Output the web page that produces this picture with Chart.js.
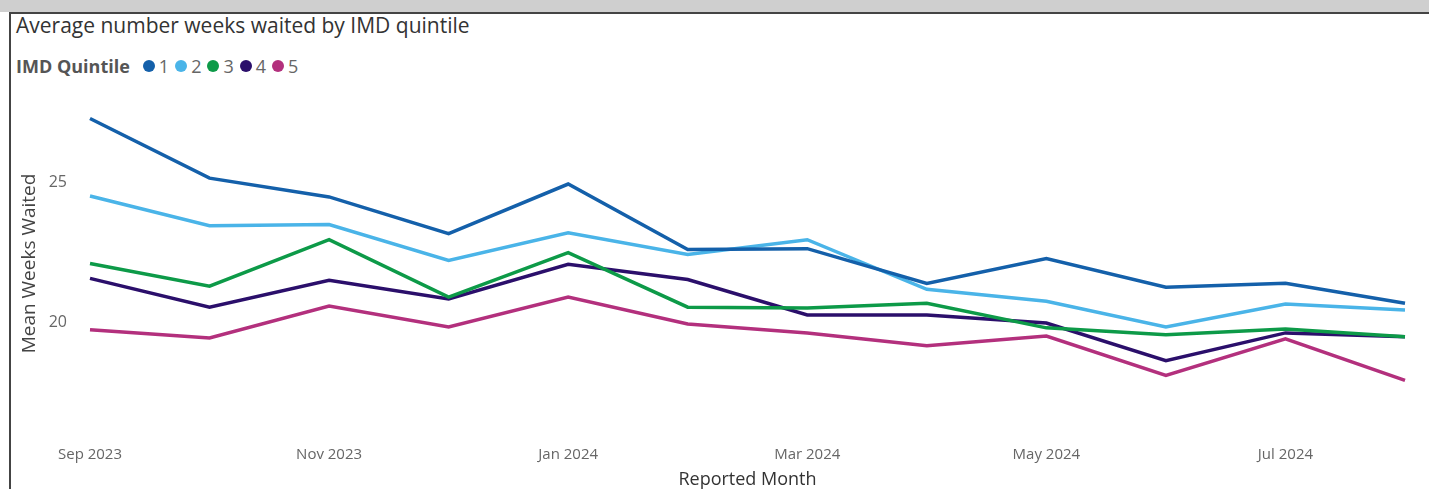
<!DOCTYPE html>
<html>
<head>
<meta charset="utf-8">
<script src="https://cdn.jsdelivr.net/npm/chart.js@4"></script>
<style>
  body { margin: 0; width: 1429px; height: 489px; overflow: hidden; background: #fff; font-family: "Open Sans", sans-serif; }
  .band { position: absolute; left: 0; top: 0; width: 1429px; height: 12px; background: #cfcfcf; }
  .frame { position: absolute; left: 9px; top: 12px; width: 1420px; height: 477px; border-top: 2px solid #444; border-left: 2px solid #444; box-sizing: border-box; }
  .title { position: absolute; left: 16px; top: 11px; font-size: 21px; color: #333; white-space: nowrap; }
  .legend { position: absolute; left: 16px; top: 54px; font-size: 18px; color: #555; display: flex; align-items: center; white-space: nowrap; }
  .legend b { font-weight: 700; margin-right: 13px; }
  .legend span.item { display: flex; align-items: center; margin-right: 6px; color: #666; }
  .legend i { display: inline-block; width: 12px; height: 12px; border-radius: 50%; margin-right: 4px; }
  .wrap { position: absolute; left: 10px; top: 90px; width: 1419px; height: 399px; }
</style>
</head>
<body>
<div class="band"></div>
<div class="frame"></div>
<div class="title">Average number weeks waited by IMD quintile</div>
<div class="legend" id="legend"><b>IMD Quintile</b></div>
<div class="wrap"><canvas id="chart" width="1419" height="399"></canvas></div>
<script>
// months on the x axis
const months = ["Sep 2023", "Oct 2023", "Nov 2023", "Dec 2023", "Jan 2024", "Feb 2024",
  "Mar 2024", "Apr 2024", "May 2024", "Jun 2024", "Jul 2024", "Aug 2024"];
const quintiles = ["1", "2", "3", "4", "5"];
const yTicks = [20, 25];

// mean weeks waited per quintile
const q1 = [27.27, 25.14, 24.47, 23.16, 24.93, 22.59, 22.62, 21.38, 22.27, 21.24, 21.38, 20.67];
const q2 = [24.50, 23.44, 23.48, 22.20, 23.19, 22.41, 22.94, 21.17, 20.74, 19.82, 20.64, 20.43];
const q3 = [22.09, 21.28, 22.94, 20.89, 22.48, 20.53, 20.50, 20.67, 19.79, 19.54, 19.75, 19.47];
const q4 = [21.56, 20.53, 21.49, 20.82, 22.06, 21.52, 20.25, 20.25, 19.96, 18.62, 19.61, 19.47];
const q5 = [19.72, 19.43, 20.57, 19.82, 20.89, 19.93, 19.61, 19.15, 19.50, 18.09, 19.40, 17.91];

const colors = ["#1460aa", "#4ab4e8", "#0d9a48", "#2b0f6b", "#b3307d"];
const series = [q1, q2, q3, q4, q5];

// legend in html so it can sit inline after the title text
const legend = document.getElementById("legend");
quintiles.forEach((q, i) => {
  const s = document.createElement("span");
  s.className = "item";
  s.innerHTML = `<i style="background:${colors[i]}"></i>${q}`;
  legend.appendChild(s);
});

new Chart(document.getElementById("chart"), {
  type: "line",
  data: {
    labels: months,
    datasets: series.map((d, i) => ({
      label: quintiles[i],
      data: d,
      borderColor: colors[i],
      backgroundColor: colors[i],
      borderWidth: 3.5,
      pointRadius: 0,
      tension: 0
    }))
  },
  options: {
    responsive: false,
    animation: false,
    layout: { autoPadding: false, padding: { top: 7, right: 24, left: 0, bottom: 0 } },
    plugins: { legend: { display: false }, tooltip: { enabled: false } },
    scales: {
      x: {
        offset: false,
        grid: { display: false, drawTicks: false },
        border: { display: false },
        ticks: {
          color: "#666",
          font: { family: "Open Sans", size: 15 },
          padding: 16,
          maxRotation: 0,
          autoSkip: false,
          callback: (v, i) => (i % 2 === 0 ? months[i] : "")
        },
        title: {
          display: true,
          text: "Reported Month",
          color: "#333",
          font: { family: "Open Sans", size: 18, lineHeight: 1 },
          padding: { top: 0, bottom: 0 }
        },
        afterFit: axis => {
          axis.height = 59;
          axis.paddingLeft = 0;
          axis.paddingRight = 0;
        }
      },
      y: {
        min: 16.14,
        max: 28.04,
        grid: { display: false, drawTicks: false },
        border: { display: false },
        afterBuildTicks: axis => { axis.ticks = yTicks.map(v => ({ value: v })); },
        ticks: {
          color: "#666",
          font: { family: "Open Sans", size: 16 },
          padding: 23
        },
        title: {
          display: true,
          text: "Mean Weeks Waited",
          color: "#444",
          font: { family: "Open Sans", size: 19 },
          padding: { top: 8, bottom: 0 }
        },
        afterFit: axis => {
          axis.width = 80;
          axis.paddingTop = 0;
          axis.paddingBottom = 0;
        }
      }
    }
  }
});
</script>
</body>
</html>
